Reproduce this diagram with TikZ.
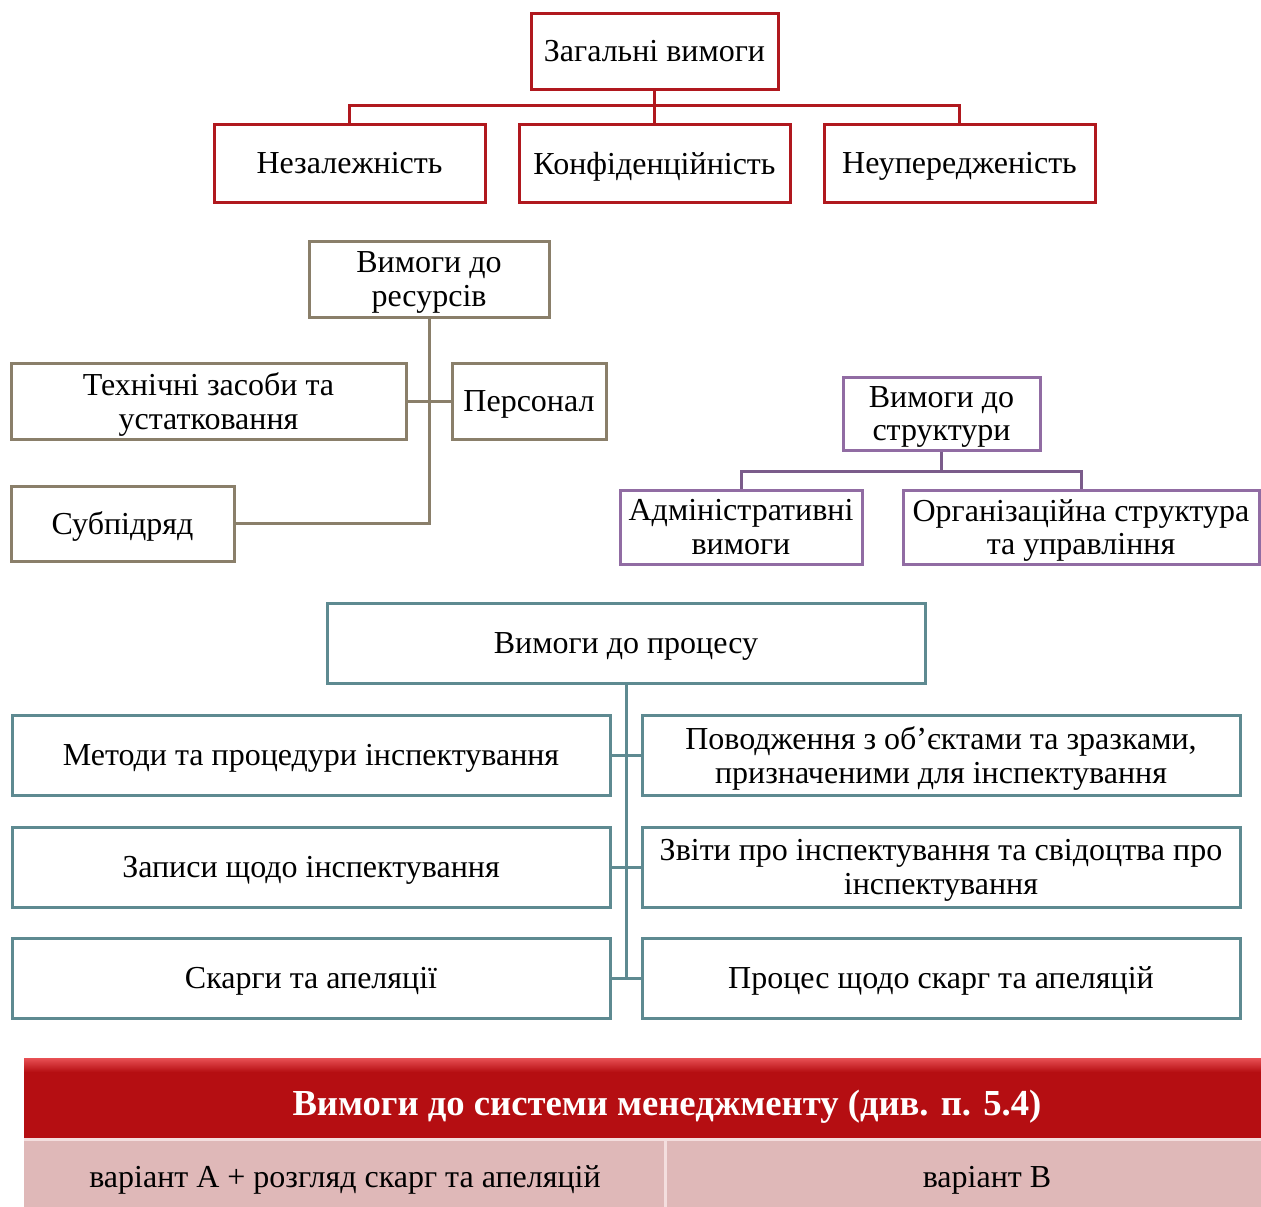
\documentclass[tikz,border=0pt]{standalone}
\usepackage{fontspec}
\setmainfont{Liberation Serif}
\newlength\px
\setlength\px{0.75pt}
\definecolor{cred}{RGB}{176,24,30}
\definecolor{cbrown}{RGB}{138,127,106}
\definecolor{cpurple}{RGB}{145,108,163}
\definecolor{cteal}{RGB}{94,138,145}
\definecolor{hdred}{RGB}{181,14,18}
\definecolor{hdlight}{RGB}{232,80,84}
\definecolor{cpink}{RGB}{223,184,184}
\definecolor{cpinklight}{RGB}{244,222,222}
\begin{document}
\begin{tikzpicture}[x=0.75pt,y=-0.75pt,
  box/.style={draw, line width=2.25pt, fill=white, inner sep=0pt, align=center,
    font=\fontsize{24pt}{25pt}\selectfont, text=black, text depth=0pt},
  redbox/.style={box, draw=cred},
  brbox/.style={box, draw=cbrown},
  pubox/.style={box, draw=cpurple},
  tebox/.style={box, draw=cteal, minimum height=80\px},
  link/.style={line width=2.25pt},
  celltext/.style={text=black, font=\fontsize{24pt}{25pt}\selectfont, text depth=0pt}]
\useasboundingbox (0,0) rectangle (1261,1207);

% General requirements
\node[redbox, minimum width=247\px, minimum height=76\px] (g0) at (654.5,51) {Загальні вимоги};
\node[redbox, minimum width=271\px, minimum height=78\px] (g1) at (349.5,163) {Незалежність};
\node[redbox, minimum width=271\px, minimum height=78\px] (g2) at (654.5,163) {Конфіденційність};
\node[redbox, minimum width=271\px, minimum height=78\px] (g3) at (959.5,163) {Неупередженість};
\draw[link, draw=cred] (g1.north) -- ++(0,-17) -| (g3.north);
\draw[link, draw=cred] (g0.south) -- (g2.north);

% Resources
\node[brbox, minimum width=240\px, minimum height=76\px] (r0) at (429,279) {Вимоги до\\ресурсів};
\node[brbox, minimum width=395\px, minimum height=76\px] (r1) at (208.5,401) {Технічні засоби та\\устатковання};
\node[brbox, minimum width=154\px, minimum height=76\px] (r2) at (529,401) {Персонал};
\node[brbox, minimum width=223\px, minimum height=75\px] (r3) at (122.5,523.5) {Субпідряд};
\draw[link, draw=cbrown] (r0.south) |- (r3.east);
\draw[link, draw=cbrown] (r1.east) -- (r2.west);

% Structure
\node[pubox, minimum width=197\px, minimum height=73\px] (s0) at (941.5,413.5) {Вимоги до\\структури};
\node[pubox, minimum width=242\px, minimum height=74\px] (s1) at (741,527) {Адміністративні\\вимоги};
\node[pubox, minimum width=356\px, minimum height=74\px] (s2) at (1081,527) {Організаційна структура\\та управління};
\draw[link, draw=cpurple!85!black] (s0.south) -- ++(0,20) coordinate (sj);
\draw[link, draw=cpurple!85!black] (s1.north) |- (sj) -| (s2.north);

% Process
\node[tebox, minimum width=598\px] (p0) at (626,643) {Вимоги до процесу};
\node[tebox, minimum width=598\px] (l1) at (311,755) {Методи та процедури інспектування};
\node[tebox, minimum width=598\px] (l2) at (311,867) {Записи щодо інспектування};
\node[tebox, minimum width=598\px] (l3) at (311,978) {Скарги та апеляції};
\node[tebox, minimum width=598\px] (q1) at (941,755) {Поводження з об’єктами та зразками,\\призначеними для інспектування};
\node[tebox, minimum width=598\px] (q2) at (941,867) {Звіти про інспектування та свідоцтва про\\інспектування};
\node[tebox, minimum width=598\px] (q3) at (941,978) {Процес щодо скарг та апеляцій};
\coordinate (pt) at (p0.south |- l3.east);
\draw[link, draw=cteal] (p0.south) -- (pt);
\draw[link, draw=cteal] (l1.east) -- (q1.west);
\draw[link, draw=cteal] (l2.east) -- (q2.west);
\draw[link, draw=cteal] (l3.east) -- (q3.west);

% Management system table
\fill[hdred] (24,1058) rectangle (1261,1138);
\shade[top color=hdlight, bottom color=hdred] (24,1058) rectangle (1261,1072);
\fill[cpink] (24,1138) rectangle (1261,1207);
\fill[cpinklight] (24,1138) rectangle (1261,1141);
\fill[cpinklight] (663.5,1138) rectangle (667,1207);
\node[text=white, font=\fontsize{27.5pt}{28pt}\selectfont\bfseries, text depth=0pt] (h0) at (667,1103) {Вимоги до системи менеджменту (див. п. 5.4)};
\node[celltext] (h1) at (345,1177) {варіант А + розгляд скарг та апеляцій};
\node[celltext] (h2) at (987,1177) {варіант В};
\end{tikzpicture}
\end{document}
